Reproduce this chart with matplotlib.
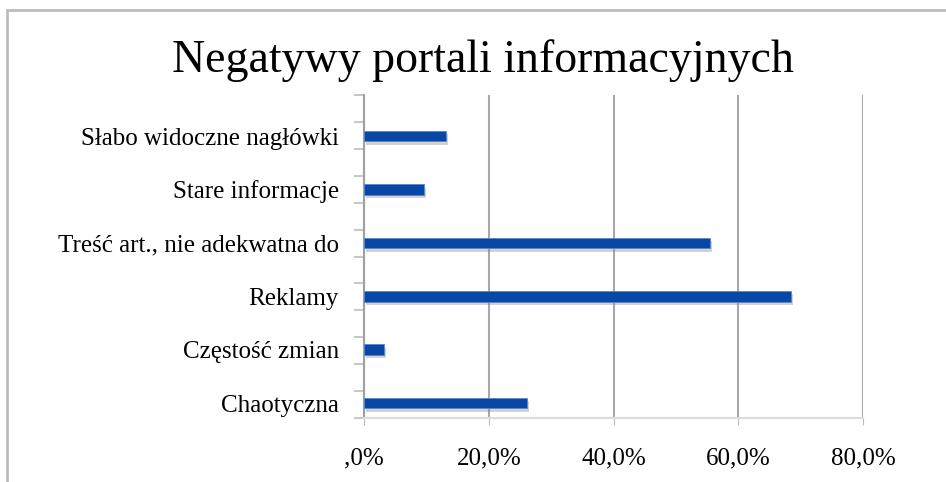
import matplotlib
matplotlib.use("Agg")
import matplotlib.pyplot as plt
import matplotlib.patheffects as pe
from matplotlib.patches import Rectangle
import numpy as np

categories = ["Chaotyczna", "Częstość zmian", "Reklamy",
              "Treść art., nie adekwatna do", "Stare informacje",
              "Słabo widoczne nagłówki"]
values = [26.1, 3.2, 68.4, 55.4, 9.6, 13.1]
xticks = [0, 20, 40, 60, 80]
xticklabels = [",0%", "20,0%", "40,0%", "60,0%", "80,0%"]
title = "Negatywy portali informacyjnych"

plt.rcParams['font.family'] = ['Liberation Serif', 'DejaVu Serif']

fig = plt.figure(figsize=(9.46, 4.82), dpi=100)
fig.patch.set_facecolor("white")

# outer chart frame
frame = Rectangle((7/946, -0.05), 1.0, (482-10)/482 + 0.05, transform=fig.transFigure,
                  fill=False, edgecolor="#bdbdbd", linewidth=2.0, zorder=0)
fig.patches.append(frame)

ax = fig.add_axes([364/946, (482-418)/482, (863-364)/946, (418-95)/482])
y = np.arange(len(categories))
bars = ax.barh(y, values, height=0.2, color="#0747a6", edgecolor="#5a86cc",
               linewidth=0.6, zorder=3)
for b in bars:
    b.set_path_effects([pe.SimplePatchShadow(offset=(1.5, -2.5), shadow_rgbFace="#808080", alpha=0.35),
                        pe.Normal()])

ax.set_xlim(0, 80)
ax.set_ylim(-0.28, 5.77)
ax.set_xticks(xticks)
ax.set_xticklabels(xticklabels, fontsize=18)
ax.set_yticks(y)
ax.set_yticklabels(categories, fontsize=18)
ax.tick_params(axis='y', length=0, pad=18)
ax.tick_params(axis='x', length=5, color="#bbbbbb", pad=16)
ax.set_yticks(np.linspace(-0.28, 5.77, 13), minor=True)
ax.tick_params(axis='y', which='minor', length=7, color="#c8c8c8", width=1.5)

ax.grid(axis='x', color="#a8a8a8", linewidth=1.5, zorder=1)
for s in ["top", "right"]:
    ax.spines[s].set_visible(False)
ax.spines["left"].set_color("#a0a0a0")
ax.spines["left"].set_linewidth(1.5)
ax.spines["bottom"].set_color("#dddddd")
ax.spines["bottom"].set_linewidth(1.5)

fig.text(0.511, 1 - 61/482, title, ha="center", va="center", fontsize=33)

fig.savefig("out.png", dpi=100)
